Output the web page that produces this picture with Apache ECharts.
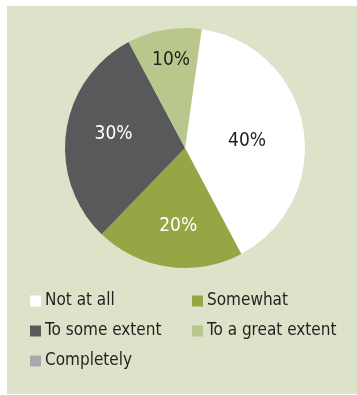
<!DOCTYPE html>
<html>
<head>
<meta charset="utf-8">
<script src="https://cdn.jsdelivr.net/npm/echarts@6/dist/echarts.min.js"></script>
<style>
  html, body { margin: 0; padding: 0; background: #ffffff; }
  #chart { width: 357px; height: 395px; }
</style>
</head>
<body>
<div id="chart"></div>
<script>
// Survey response shares
const categories = ['Not at all', 'Somewhat', 'To some extent', 'To a great extent', 'Completely'];
const shares = [40, 20, 30, 10, 0];
const sliceColors = ['#ffffff', '#95a645', '#58595b', '#bac78c', '#a7a9ac'];
const labelColors = ['#231f20', '#ffffff', '#ffffff', '#231f20', '#231f20'];

// Legend columns
const legendLeftColumn = ['Not at all', 'To some extent', 'Completely'];
const legendRightColumn = ['Somewhat', 'To a great extent'];

const FONT = '"DejaVu Sans Condensed", "Liberation Sans", sans-serif';

// Fine shifts for the in-slice percentage labels (px)
const labelShift = [
  { dx: 0, dy: 4 },
  { dx: 2, dy: 16 },
  { dx: -9, dy: -5 },
  { dx: -3, dy: -26 },
  { dx: 0, dy: 0 }
];

const chart = echarts.init(document.getElementById('chart'), null, { renderer: 'canvas' });

const pieData = categories.map((name, i) => ({
  name: name,
  value: shares[i],
  itemStyle: { color: sliceColors[i] },
  label: { color: labelColors[i], show: shares[i] > 0 }
}));

const legendCommon = {
  orient: 'vertical',
  padding: 0,
  itemWidth: 11,
  itemHeight: 11,
  itemGap: 10,
  icon: 'rect',
  selectedMode: false,
  textStyle: { fontFamily: FONT, fontSize: 17, lineHeight: 20, color: '#231f20', padding: [0, 0, 0, -1] }
};

chart.setOption({
  animation: false,
  backgroundColor: '#ffffff',
  graphic: [{
    type: 'rect',
    left: 7, top: 6,
    shape: { width: 350, height: 388 },
    style: { fill: '#dde3c8' },
    z: -10
  }],
  legend: [
    Object.assign({}, legendCommon, { left: 30, top: 291, data: legendLeftColumn }),
    Object.assign({}, legendCommon, { left: 192, top: 291, data: legendRightColumn })
  ],
  series: [{
    type: 'pie',
    center: [185, 148],
    radius: [0, 120],
    startAngle: 82,
    clockwise: true,
    avoidLabelOverlap: false,
    stillShowZeroSum: false,
    label: {
      show: true,
      position: 'inside',
      formatter: '{c}%',
      fontFamily: FONT,
      fontSize: 19,
      fontWeight: 'normal'
    },
    labelLine: { show: false },
    labelLayout: function (params) {
      const s = labelShift[params.dataIndex];
      return { dx: s.dx, dy: s.dy };
    },
    emphasis: { disabled: true },
    itemStyle: { borderWidth: 0 },
    data: pieData
  }]
});
</script>
</body>
</html>
